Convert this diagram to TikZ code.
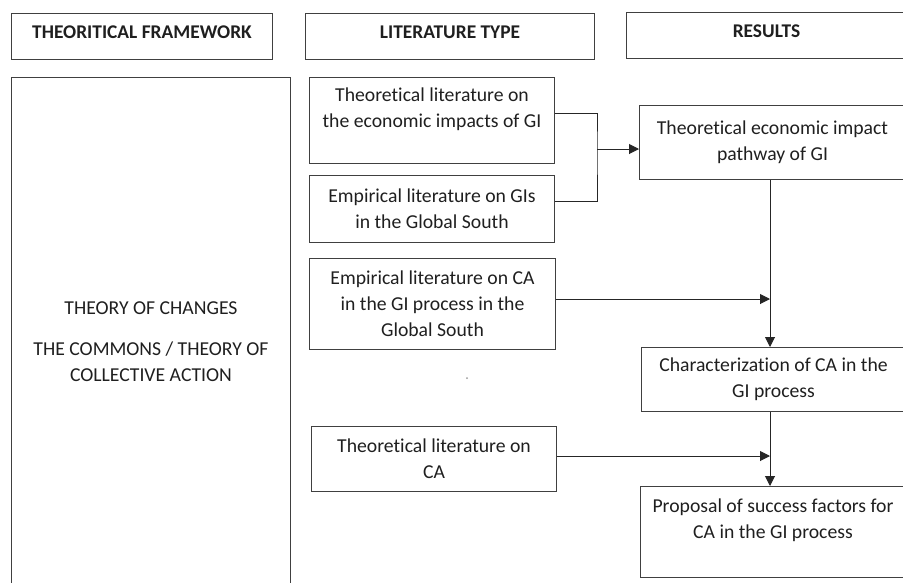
\documentclass[tikz,border=0pt]{standalone}
\usepackage{fontspec}
\setmainfont{Carlito}[Ligatures=NoCommon]
\usetikzlibrary{positioning,arrows.meta}

\begin{document}
\begin{tikzpicture}[x=1pt,y=-1pt]
\tikzstyle{every node}=[text=black!88,font=\fontsize{19.7}{26}\selectfont]
\tikzstyle{box}=[draw=black!75,line width=1pt,anchor=north west,inner sep=0pt,align=center]
\tikzstyle{headbox}=[box,minimum height=46,text depth=9,font=\fontsize{19.4}{26}\selectfont\bfseries]
\tikzstyle{link}=[draw=black!85,line width=1pt]
\tikzstyle{arrowlink}=[link,-{Triangle[length=10pt,width=10pt]}]

\useasboundingbox (0,0) rectangle (903,582);
\clip (0,0) rectangle (903,582);

%header boxes
\node[headbox,minimum width=261] (framework) at (11,13) {THEORITICAL FRAMEWORK};
\node[headbox,minimum width=289] (littype) at (305,13) {LITERATURE TYPE};
\node[headbox,minimum width=280] (results) at (626,12) {RESULTS};

%theory column
\node[box,minimum width=279,minimum height=528] (theory) at (11,77)
  {THEORY OF CHANGES\\[15pt]THE COMMONS / THEORY OF\\COLLECTIVE ACTION};

%literature boxes
\node[box,minimum width=245,minimum height=86] (lit1) at (309,77)
  {Theoretical literature on\\the economic impacts of GI\\\mbox{}};
\node[box,minimum width=245,minimum height=67] (lit2) at (309,175)
  {Empirical literature on GIs\\in the Global South};
\node[box,minimum width=246,minimum height=91] (lit3) at (309,258)
  {Empirical literature on CA\\in the GI process in the\\Global South};
\node[box,minimum width=245,minimum height=65] (lit4) at (311,426)
  {Theoretical literature on\\CA};
\node[circle,fill=black!40,inner sep=0pt,minimum size=2pt] (dot) at (467,378) {};

%result boxes
\node[box,minimum width=266,minimum height=74] (res1) at (639,105)
  {Theoretical economic impact\\pathway of GI};
\node[box,minimum width=264,minimum height=64] (res2) at (641,347)
  {Characterization of CA in the\\GI process};
\node[box,minimum width=265,minimum height=91] (res3) at (640,486)
  {Proposal of success factors for\\CA in the GI process\\\mbox{}};

%connectors
\coordinate (join) at (597,149);
\coordinate (m1) at (770,299);
\coordinate (m2) at (770,456);
\draw[link] ([yshift=7]lit1.east) -| (join) |- ([yshift=7.5]lit2.east);
\draw[arrowlink] (join) -- (join -| res1.west);
\draw[arrowlink] (res1.south -| m1) -- (res2.north -| m1);
\draw[arrowlink] (lit3.east |- m1) -- (m1);
\draw[arrowlink] (res2.south -| m2) -- (res3.north -| m2);
\draw[arrowlink] (lit4.east |- m2) -- (m2);
\end{tikzpicture}
\end{document}
